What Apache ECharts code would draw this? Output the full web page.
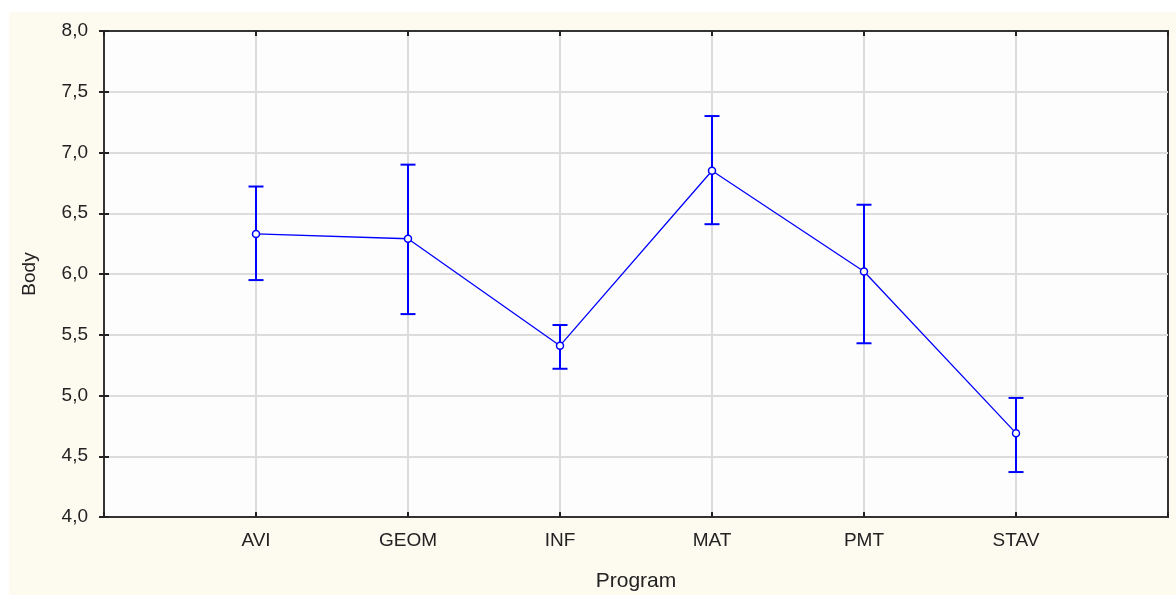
<!DOCTYPE html>
<html>
<head>
<meta charset="utf-8">
<script src="https://cdn.jsdelivr.net/npm/echarts@6/dist/echarts.min.js"></script>
<style>
  html, body { margin: 0; padding: 0; background: #ffffff; overflow: hidden; }
  #panel { position: absolute; left: 9px; top: 12px; width: 1167px; height: 583px; background: #FDFAEF; }
  #chart { position: absolute; left: 0; top: 0; width: 1176px; height: 595px; }
</style>
</head>
<body>
<div id="panel"></div>
<div id="chart"></div>
<script>
// Mean points with confidence interval per study programme
const categories = ['AVI', 'GEOM', 'INF', 'MAT', 'PMT', 'STAV'];
const means = [6.33, 6.29, 5.41, 6.85, 6.02, 4.69];
const lowerBounds = [5.95, 5.67, 5.22, 6.41, 5.43, 4.37];
const upperBounds = [6.72, 6.90, 5.58, 7.30, 6.57, 4.98];
const yTicks = [4.0, 4.5, 5.0, 5.5, 6.0, 6.5, 7.0, 7.5, 8.0];

const blue = '#0000FF';
const font = 'Liberation Sans, Arial, sans-serif';

const meanData = means.map((m, i) => [i + 1, m]);
const barData = categories.map((c, i) => [i + 1, lowerBounds[i], upperBounds[i]]);

const fmtY = v => v.toFixed(1).replace('.', ',');
const fmtX = v => (v >= 1 && v <= categories.length) ? categories[v - 1] : '';

const chart = echarts.init(document.getElementById('chart'), null, { renderer: 'canvas' });

const tickInside = { show: true, inside: true, length: 5, lineStyle: { color: '#222', width: 2 } };
const frameLine = { show: true, lineStyle: { color: '#333', width: 2 } };
const gridLine = { show: true, showMinLine: false, showMaxLine: false, lineStyle: { color: '#DCDCDC', width: 2 } };

chart.setOption({
  backgroundColor: 'transparent',
  animation: false,
  grid: {
    left: 104, top: 31, right: 8, bottom: 78,
    outerBoundsMode: 'none', containLabel: false,
    show: true, backgroundColor: '#FDFDFD', borderColor: '#333', borderWidth: 2
  },
  xAxis: [{
    type: 'value', min: 0, max: categories.length + 1, interval: 1,
    name: 'Program', nameLocation: 'middle', nameGap: 54,
    nameTextStyle: { fontFamily: font, fontSize: 21, color: '#222' },
    axisLine: frameLine,
    axisTick: tickInside,
    axisLabel: { formatter: fmtX, fontFamily: font, fontSize: 19, color: '#222', margin: 14 },
    splitLine: gridLine
  }, {
    type: 'value', position: 'top', min: 0, max: categories.length + 1, interval: 1,
    axisLine: frameLine, axisTick: tickInside, axisLabel: { show: false }, splitLine: { show: false }
  }],
  yAxis: [{
    type: 'value', min: yTicks[0], max: yTicks[yTicks.length - 1], interval: 0.5,
    name: 'Body', nameLocation: 'middle', nameGap: 65, nameRotate: 90,
    nameTextStyle: { fontFamily: font, fontSize: 19, color: '#222' },
    axisLine: frameLine,
    axisTick: tickInside,
    axisLabel: { formatter: fmtY, fontFamily: font, fontSize: 19, color: '#222', margin: 16 },
    splitLine: gridLine
  }, {
    type: 'value', position: 'right', min: yTicks[0], max: yTicks[yTicks.length - 1], interval: 0.5,
    axisLine: frameLine, axisTick: tickInside, axisLabel: { show: false }, splitLine: { show: false }
  }],
  series: [{
    type: 'custom',
    data: barData,
    z: 3,
    renderItem: function (params, api) {
      const x = api.value(0);
      const lo = api.coord([x, api.value(1)]);
      const hi = api.coord([x, api.value(2)]);
      const half = 7.5;
      const style = { stroke: blue, lineWidth: 2 };
      return {
        type: 'group',
        children: [
          { type: 'line', shape: { x1: lo[0], y1: lo[1], x2: hi[0], y2: hi[1] }, style },
          { type: 'line', shape: { x1: hi[0] - half, y1: hi[1], x2: hi[0] + half, y2: hi[1] }, style },
          { type: 'line', shape: { x1: lo[0] - half, y1: lo[1], x2: lo[0] + half, y2: lo[1] }, style }
        ]
      };
    }
  }, {
    type: 'line',
    data: meanData,
    z: 4,
    symbol: 'circle',
    symbolSize: 7,
    showSymbol: true,
    lineStyle: { color: blue, width: 1.3 },
    itemStyle: { color: '#FDFDFD', borderColor: blue, borderWidth: 1.5 }
  }]
});
</script>
</body>
</html>
